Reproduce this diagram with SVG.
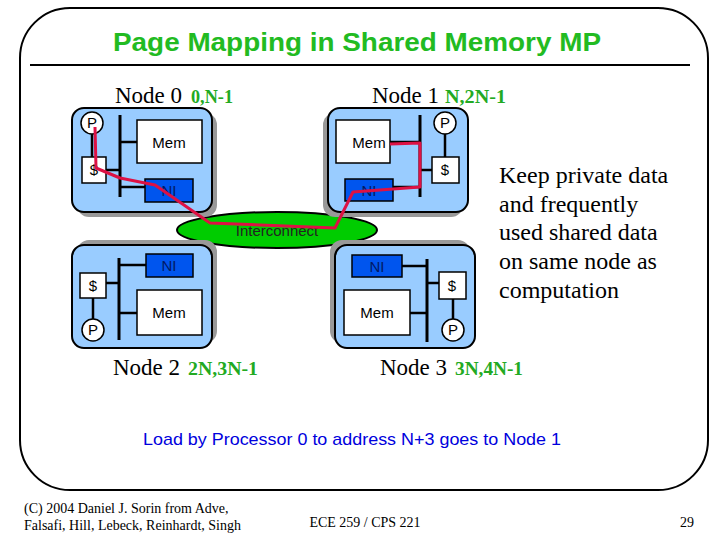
<svg xmlns="http://www.w3.org/2000/svg" width="720" height="540" viewBox="0 0 720 540">
<style>
.nbox{fill:#99ccff;stroke:#000;stroke-width:2}
.shadow{fill:#999999}
.wbox{fill:#fff;stroke:#000;stroke-width:1.5}
.ni{fill:#0055ee;stroke:#000;stroke-width:1.5}
.bus{stroke:#000;stroke-width:3;fill:none}
.ln{stroke:#000;stroke-width:2.5;fill:none}
.lbl{font-family:"Liberation Sans",Arial,sans-serif;font-size:15px;text-anchor:middle}
.nilbl{font-family:"Liberation Sans",Arial,sans-serif;font-size:15px;text-anchor:middle;fill:#001a66}
.ser{font-family:"Liberation Serif","Times New Roman",serif}
.nname{font-family:"Liberation Serif","Times New Roman",serif;font-size:23px}
.grn{font-family:"Liberation Serif","Times New Roman",serif;font-size:18px;font-weight:bold;fill:#22aa22}
</style>
<rect x="20" y="8" width="688" height="482" rx="50" ry="50" fill="none" stroke="#000" stroke-width="2"/>
<text x="113" y="51" textLength="488" lengthAdjust="spacingAndGlyphs" font-family="Liberation Sans,Arial,sans-serif" font-size="26" font-weight="bold" fill="#22bb22">Page Mapping in Shared Memory MP</text>
<line x1="30" y1="65" x2="690" y2="65" stroke="#000" stroke-width="2"/>

<g id="interconnect">
<ellipse cx="277" cy="230" rx="100" ry="18" fill="#00cc00" stroke="#000" stroke-width="2"/>
<text x="277" y="236" class="lbl" fill="#222">Interconnect</text>
</g>

<g id="node0">
<rect class="shadow" x="77" y="113" width="140" height="104" rx="12"/>
<rect class="nbox" x="72" y="108" width="140" height="104" rx="12"/>
<line class="bus" x1="120" y1="115" x2="120" y2="197"/>
<line class="ln" x1="92" y1="134" x2="92" y2="157"/>
<line class="ln" x1="106" y1="170" x2="120" y2="170"/>
<line class="ln" x1="120" y1="142" x2="137" y2="142"/>
<line class="ln" x1="120" y1="187" x2="145" y2="187"/>
<circle cx="92" cy="123" r="11" fill="#fff" stroke="#000" stroke-width="1.5"/>
<text x="92" y="128" class="lbl">P</text>
<rect class="wbox" x="82" y="157" width="24" height="26"/>
<text x="94" y="175" class="lbl">$</text>
<rect class="wbox" x="137" y="120" width="65" height="43"/>
<text x="169" y="148" class="lbl">Mem</text>
<rect class="ni" x="145" y="179" width="48" height="23"/>
<text x="169" y="196" class="nilbl">NI</text>
<text x="115" y="103" class="nname">Node 0</text>
<text x="191" y="103" class="grn" textLength="42" lengthAdjust="spacingAndGlyphs">0,N-1</text>
</g>

<g id="node1">
<rect class="shadow" x="323" y="113" width="140" height="104" rx="12"/>
<rect class="nbox" x="328" y="108" width="140" height="104" rx="12"/>
<line class="bus" x1="420" y1="115" x2="420" y2="197"/>
<line class="ln" x1="445" y1="134" x2="445" y2="157"/>
<line class="ln" x1="420" y1="170" x2="432" y2="170"/>
<line class="ln" x1="390" y1="142" x2="420" y2="142"/>
<line class="ln" x1="393" y1="187" x2="420" y2="187"/>
<circle cx="445" cy="123" r="11" fill="#fff" stroke="#000" stroke-width="1.5"/>
<text x="445" y="128" class="lbl">P</text>
<rect class="wbox" x="432" y="157" width="27" height="26"/>
<text x="445" y="175" class="lbl">$</text>
<rect class="wbox" x="336" y="120" width="54" height="43"/>
<text x="369" y="148" class="lbl">Mem</text>
<rect class="ni" x="345" y="179" width="48" height="22"/>
<text x="369" y="196" class="nilbl">NI</text>
<text x="372" y="103" class="nname">Node 1</text>
<text x="445" y="103" class="grn" textLength="61" lengthAdjust="spacingAndGlyphs">N,2N-1</text>
</g>

<g id="node2">
<rect class="shadow" x="77" y="240" width="140" height="103" rx="12"/>
<rect class="nbox" x="72" y="245" width="140" height="103" rx="12"/>
<line class="bus" x1="119" y1="258" x2="119" y2="340"/>
<line class="ln" x1="93" y1="298" x2="93" y2="319"/>
<line class="ln" x1="106" y1="283" x2="119" y2="283"/>
<line class="ln" x1="119" y1="265" x2="146" y2="265"/>
<line class="ln" x1="119" y1="313" x2="137" y2="313"/>
<rect class="wbox" x="80" y="273" width="26" height="25"/>
<text x="93" y="291" class="lbl">$</text>
<circle cx="93" cy="330" r="11" fill="#fff" stroke="#000" stroke-width="1.5"/>
<text x="93" y="335" class="lbl">P</text>
<rect class="ni" x="146" y="254" width="47" height="23"/>
<text x="169" y="271" class="nilbl">NI</text>
<rect class="wbox" x="137" y="290" width="65" height="45"/>
<text x="169" y="318" class="lbl">Mem</text>
<text x="113" y="375" class="nname">Node 2</text>
<text x="188" y="375" class="grn" textLength="70" lengthAdjust="spacingAndGlyphs">2N,3N-1</text>
</g>

<g id="node3">
<rect class="shadow" x="330" y="240" width="140" height="103" rx="12"/>
<rect class="nbox" x="335" y="245" width="140" height="103" rx="12"/>
<line class="bus" x1="427" y1="259" x2="427" y2="342"/>
<line class="ln" x1="453" y1="299" x2="453" y2="319"/>
<line class="ln" x1="427" y1="283" x2="439" y2="283"/>
<line class="ln" x1="402" y1="266" x2="427" y2="266"/>
<line class="ln" x1="410" y1="313" x2="427" y2="313"/>
<rect class="wbox" x="439" y="272" width="27" height="27"/>
<text x="452" y="291" class="lbl">$</text>
<circle cx="453" cy="330" r="11" fill="#fff" stroke="#000" stroke-width="1.5"/>
<text x="453" y="335" class="lbl">P</text>
<rect class="ni" x="352" y="255" width="50" height="22"/>
<text x="377" y="272" class="nilbl">NI</text>
<rect class="wbox" x="344" y="290" width="66" height="45"/>
<text x="377" y="318" class="lbl">Mem</text>
<text x="380" y="375" class="nname">Node 3</text>
<text x="455" y="375" class="grn" textLength="68" lengthAdjust="spacingAndGlyphs">3N,4N-1</text>
</g>

<g id="connectors">
<polyline points="95,127 96,168 120,178 155,185 210,223 335,228 353,192 420,187 420,143 390,144" fill="none" stroke="#dd1144" stroke-width="3" stroke-linejoin="round"/>
</g>

<g id="notes" class="ser" font-size="24">
<text x="499" y="183">Keep private data</text>
<text x="499" y="212">and frequently</text>
<text x="499" y="240">used shared data</text>
<text x="499" y="269">on same node as</text>
<text x="499" y="298">computation</text>
</g>
<text x="143" y="445" textLength="418" lengthAdjust="spacingAndGlyphs" font-family="Liberation Sans,Arial,sans-serif" font-size="17" fill="#0000dd">Load by Processor 0 to address N+3 goes to Node 1</text>
<g class="ser" font-size="14">
<text x="24" y="513">(C) 2004 Daniel J. Sorin from Adve,</text>
<text x="24" y="530">Falsafi, Hill, Lebeck, Reinhardt, Singh</text>
<text x="365" y="527" text-anchor="middle">ECE 259 / CPS 221</text>
<text x="694" y="527" text-anchor="end">29</text>
</g>
</svg>
